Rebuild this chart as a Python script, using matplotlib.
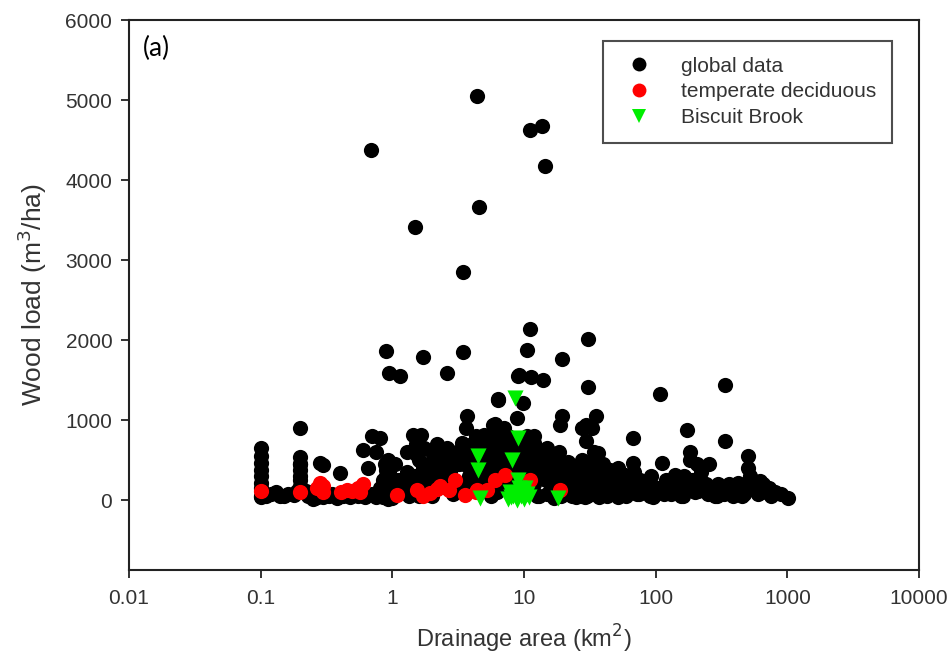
import matplotlib
matplotlib.use("Agg")
import matplotlib.pyplot as plt
from matplotlib.lines import Line2D

# ---- data: drainage area (km^2) vs. wood load (m^3/ha) ----
global_area = [
    4.4, 11.1, 13.7, 14.4, 0.69, 4.57, 1.48, 3.46,
    0.89, 1.72, 3.46, 0.94, 1.15, 2.58, 9.0, 0.199, 6.4, 3.7, 5.9,
    0.70, 0.81, 0.60, 1.44, 1.66,
    11.1, 10.5, 30.4, 19.6, 9.2, 11.4, 14.0, 30.4, 108, 335, 6.4, 9.9,
    19.6, 18.7, 35.5, 29.8, 27.4, 8.8, 5.83, 66.8, 172, 335, 29.8, 36.5,
    111, 183, 183, 205, 255, 507, 507, 620, 640, 800, 1010, 66.8,
    0.1, 0.1, 0.1, 0.1, 0.1, 0.1, 0.1, 0.1, 0.12, 0.14, 0.16,
    0.2, 0.2, 0.2, 0.2, 0.2, 0.21, 0.23, 0.25, 0.27, 0.28, 0.3, 0.33,
    0.4, 0.45, 0.5,
    0.65, 0.88, 0.9, 0.9, 0.88, 0.9, 0.9, 0.92, 0.85,
    1.1, 1.2, 1.3, 1.5, 1.6, 1.7, 1.8, 2.0, 2.2, 2.1, 2.4, 2.6, 2.5,
    2.8, 3.0, 2.2, 1.9, 2.6, 1.3, 1.6, 2.0, 2.9,
    4.0, 5.0, 6.0, 4.5, 3.3, 7.0, 7.5, 8.0, 9.0, 6.5, 4.2, 5.5, 3.8,
    7.2, 8.8, 3.5, 4.8, 5.2, 6.2, 7.8, 3.2, 4.0, 5.6, 6.8, 8.4,
    10.5, 12, 15, 11, 13, 17, 19, 22, 25, 14, 20, 28, 12, 16, 24, 30,
    11.5, 13.5, 16.5, 21, 26, 18, 23, 27, 10.2, 12.5, 15.5,
    40, 45, 50, 55, 60, 70, 80, 42, 90, 38, 48, 58, 65, 75, 85, 95,
    120, 150, 300, 400, 200, 250, 350, 450, 550, 140, 170, 230, 280,
    320, 380, 420, 480, 600, 700, 160, 130, 260,
    0.11, 0.13, 0.15, 0.18, 0.19, 0.1,
    0.22, 0.24, 0.26, 0.3, 0.35, 0.38, 0.42, 0.48, 0.3, 0.2, 0.2,
    0.55, 0.62, 0.7, 0.75, 0.8, 0.85, 0.92, 0.95, 0.98, 0.75,
    1.0, 1.05, 1.15, 1.25, 1.35, 1.45, 1.55, 1.65, 1.75, 1.85, 1.95,
    2.05, 2.15, 2.3, 2.35, 2.45, 2.55, 2.7, 2.75, 2.85, 2.95, 3.1, 3.2,
    1.3, 1.5,
    3.4, 3.6, 3.8, 3.9, 4.1, 4.3, 4.6, 4.8, 5.0, 5.3, 5.5, 5.8, 6.2,
    6.5, 6.8, 7.0, 7.3, 7.6, 8.2, 8.5, 8.8, 9.3, 9.6,
    3.3, 3.6, 4.2, 4.7, 5.0, 5.3, 5.8, 6.2, 6.6, 7.0, 7.4, 7.9, 8.4,
    9.0, 9.6, 9.8, 3.6, 6.0,
    10.2, 10.8, 11.5, 12.2, 12.8, 13.5, 14.2, 14.8, 15.5, 16.2, 17,
    17.8, 18.5, 19.2, 20.5, 21.5, 22.5, 23.5, 24.5, 25.5, 26.5, 27.5,
    28.5, 29.5, 31, 32, 33, 34,
    11, 13, 15, 17, 19, 21, 23, 25, 27, 29, 10.5, 12,
    32, 35, 38, 41, 44, 47, 52, 55, 58, 62, 66, 68, 72, 76, 82, 88, 92,
    98, 33, 37, 43, 52, 60,
    105, 115, 125, 135, 145, 155, 165, 175, 190, 210, 220, 240, 270,
    290, 310, 330, 360, 390, 430, 470, 520, 580, 650, 720, 750, 900,
]
global_load = [
    5050, 4630, 4680, 4180, 4370, 3670, 3410, 2850,
    1860, 1790, 1850, 1590, 1550, 1590, 1550, 900, 1260, 1050, 945,
    800, 780, 630, 820, 820,
    2140, 1880, 2010, 1760, 1560, 1540, 1500, 1420, 1330, 1440, 1250, 1215,
    1050, 945, 1050, 945, 905, 1030, 945, 780, 880, 740, 740, 590,
    470, 610, 510, 450, 450, 550, 400, 240, 110, 110, 30, 470,
    650, 560, 470, 380, 300, 220, 150, 60, 80, 60, 80,
    540, 460, 380, 260, 180, 100, 60, 20, 40, 470, 100, 60,
    340, 80, 120,
    400, 450, 380, 300, 220, 150, 80, 20, 40,
    250, 180, 350, 580, 500, 400, 300, 600, 700, 480, 560, 650, 400,
    500, 450, 250, 200, 150, 100, 50, 60, 80,
    700, 820, 640, 600, 580, 900, 700, 560, 640, 480, 400, 350, 300,
    250, 350, 450, 200, 150, 100, 300, 150, 250, 50, 380, 120,
    800, 720, 650, 600, 520, 560, 480, 400, 350, 300, 250, 200, 200, 150, 100, 60,
    450, 380, 300, 250, 180, 120, 320, 60, 100, 50, 420,
    450, 380, 300, 250, 200, 180, 120, 100, 60, 250, 150, 100, 300, 80, 200, 40,
    250, 180, 200, 100, 100, 80, 150, 60, 200, 320, 250, 180, 60,
    120, 90, 220, 150, 80, 150, 60, 80, 150,
    60, 100, 50, 70, 120, 40,
    120, 80, 30, 40, 80, 30, 60, 40, 440, 300, 450,
    60, 40, 80, 40, 150, 250, 500, 350, 120, 600,
    30, 450, 120, 250, 50, 300, 200, 120, 650, 450, 350,
    250, 150, 520, 400, 300, 220, 620, 350, 250, 150, 600, 450,
    600, 700,
    720, 650, 560, 480, 520, 800, 700, 620, 520, 450, 600, 700, 820,
    720, 600, 520, 420, 800, 700, 600, 480, 720, 550,
    200, 120, 220, 300, 250, 180, 350, 420, 280, 180, 350, 250, 180,
    350, 280, 420, 900, 950,
    700, 500, 350, 450, 600, 400, 550, 250, 450, 350, 250,
    420, 600, 350, 180, 480, 300, 200, 420, 150, 300, 500,
    120, 380, 250, 150, 900, 600,
    100, 50, 80, 30, 60, 80, 50, 40, 80, 40, 300, 800,
    450, 350, 200, 320, 150, 250, 400, 100, 320, 150, 250, 350, 80, 250,
    200, 120, 300, 80, 80, 40, 60, 40, 60,
    150, 80, 180, 100, 250, 60, 300, 150, 250, 120, 350, 200, 100,
    50, 150, 80, 200, 50, 150, 80, 300, 120, 200, 150, 60, 80,
]

temperate_area = [
    0.1, 0.2, 0.27, 0.28, 0.3, 0.3, 0.41, 0.45, 0.49, 0.55, 0.57, 0.6,
    1.08, 1.53, 1.7, 1.93, 2.2, 2.3, 2.7, 3.0, 3.56, 4.3, 4.4, 5.2,
    6.0, 7.2, 11.1, 18.7,
]
temperate_load = [
    112, 100, 150, 220, 180, 100, 100, 130, 120, 150, 110, 200,
    72, 134, 60, 92, 140, 175, 134, 258, 72, 100, 134, 134,
    250, 320, 258, 134,
]

biscuit_area = [
    8.5, 9.0, 4.5, 4.5, 8.1, 9.0, 9.9, 8.3, 4.6, 18.2,
    7.5, 8.0, 8.8, 9.5, 10.0, 10.5, 11.0, 7.8, 9.2, 10.2,
]
biscuit_load = [
    1278, 779, 549, 383, 508, 258, 92, 50, 30, 30,
    20, 40, 10, 60, 20, 80, 40, 100, 150, 150,
]

x_ticks = [0.01, 0.1, 1, 10, 100, 1000, 10000]
x_tick_labels = ["0.01", "0.1", "1", "10", "100", "1000", "10000"]
y_ticks = [0, 1000, 2000, 3000, 4000, 5000, 6000]

plt.rcParams["font.family"] = ["Liberation Sans", "DejaVu Sans"]

fig = plt.figure(figsize=(9.53, 6.70), dpi=100)
ax = fig.add_axes([129 / 953, 100 / 670, 790 / 953, 550 / 670])

ms = 120
ax.scatter(global_area, global_load, s=ms, c="black", marker="o",
           linewidths=0, zorder=2)
ax.scatter(temperate_area, temperate_load, s=ms, c="#ff0000", marker="o",
           linewidths=0, zorder=3)
ax.scatter(biscuit_area, biscuit_load, s=135, c="#00ee00", marker="v",
           linewidths=0, zorder=4)

ax.set_xscale("log")
ax.set_xlim(0.01, 10000)
ax.set_ylim(-870, 6000)
ax.set_xticks(x_ticks)
ax.set_xticklabels(x_tick_labels)
ax.xaxis.set_minor_locator(matplotlib.ticker.NullLocator())
ax.set_yticks(y_ticks)

tick_color = "#333333"
ax.tick_params(axis="both", direction="out", length=6, width=1.3,
               labelsize=15, labelcolor=tick_color, color="#222222")
ax.tick_params(axis="x", pad=8)
ax.tick_params(axis="y", pad=6)
for sp in ax.spines.values():
    sp.set_linewidth(1.5)
    sp.set_color("#222222")

ax.set_xlabel("Drainage area (km$^2$)", fontsize=17, color="#333333",
              labelpad=10)
ax.set_ylabel("Wood load (m$^3$/ha)", fontsize=19, color="#333333",
              labelpad=12)

ax.text(0.018, 0.948, "(a)", transform=ax.transAxes, fontsize=19,
        family=["Lato", "DejaVu Sans"], color="black", va="center")

handles = [
    Line2D([], [], marker="o", linestyle="none", color="black",
           markersize=10, markeredgewidth=0),
    Line2D([], [], marker="o", linestyle="none", color="#ff0000",
           markersize=10, markeredgewidth=0),
    Line2D([], [], marker="v", linestyle="none", color="#00ee00",
           markersize=10, markeredgewidth=0),
]
leg = ax.legend(handles, ["global data", "temperate deciduous", "Biscuit Brook"],
                loc="upper left", bbox_to_anchor=(0.60, 0.962),
                fontsize=15, frameon=True, fancybox=False,
                borderpad=0.75, labelspacing=0.33, handletextpad=1.0,
                handlelength=2.0, borderaxespad=0)
leg.get_frame().set_edgecolor("#222222")
leg.get_frame().set_linewidth(1.5)
for t in leg.get_texts():
    t.set_color("#333333")

fig.savefig("out.png", dpi=100, facecolor="white")
